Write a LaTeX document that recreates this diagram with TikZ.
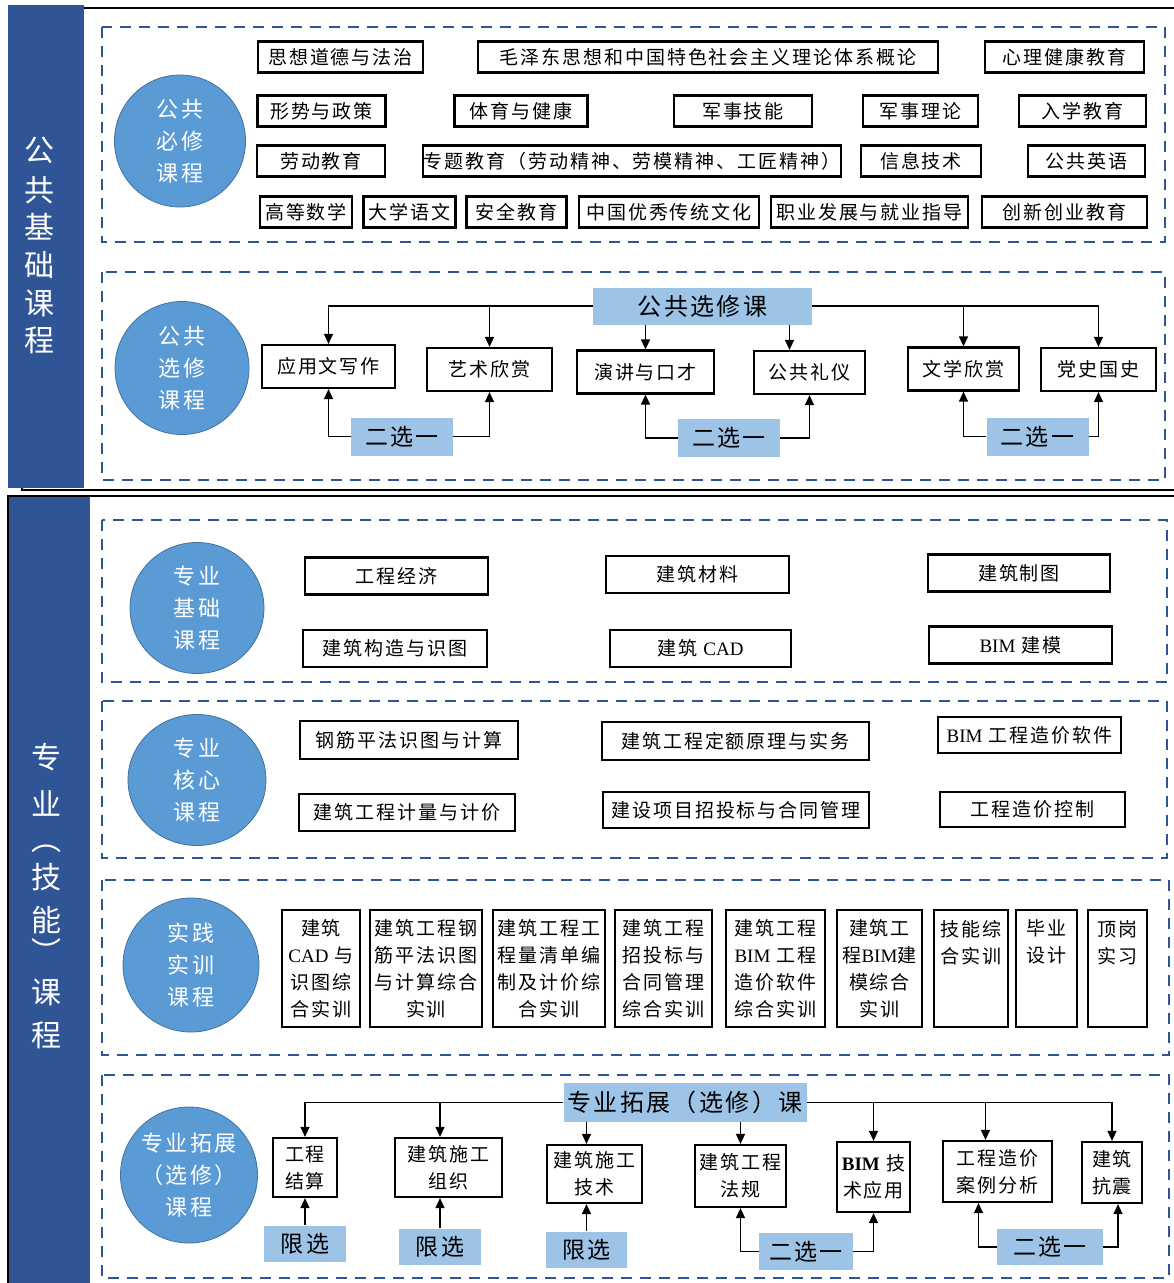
\documentclass[tikz,border=0pt]{standalone}
\usepackage{fontspec}
\usepackage{tikz}
\usetikzlibrary{arrows.meta,shapes.geometric}
\setmainfont{Noto Sans CJK SC}[LetterSpace=10]
\newfontfamily\lat{Liberation Serif}
\definecolor{bardark}{HTML}{2F5597}
\definecolor{ovalblue}{HTML}{5B9BD5}
\definecolor{ovaledge}{HTML}{41719C}
\definecolor{tagblue}{HTML}{9DC3E6}

\begin{document}
\begin{tikzpicture}[
  x=1pt, y=-1pt,
  cbox/.style={draw=black, line width=2.2pt, fill=white, inner sep=0pt, minimum height=31pt, font=\fontsize{19}{22}\selectfont},
  mbox/.style={cbox, align=center, font=\fontsize{19}{27}\selectfont},
  tag/.style={fill=tagblue, inner sep=0pt, font=\fontsize{23}{26}\selectfont},
  oval/.style={ellipse, draw=ovaledge, line width=0.8pt, fill=ovalblue, text=white, inner sep=0pt, align=center, font=\fontsize{22}{32}\selectfont},
  grp/.style={draw=bardark, line width=2.4pt, dash pattern=on 11pt off 8pt},
  lnk/.style={line width=1.3pt},
  arr/.style={lnk, -{Triangle[length=10pt,width=9pt]}},
  side/.style={text=white, inner sep=0pt, font=\fontsize{30}{30}\selectfont},
  paren/.style={side, text height=8pt, text depth=0pt},
]
\useasboundingbox (0,0) rectangle (1174,1283);
\clip (0,0) rectangle (1174,1283);
\fill[white] (0,0) rectangle (1174,1283);

% frames and side bars
\draw[line width=1.2pt] (22,8) rectangle (1190,490);
\draw[line width=1.2pt] (8,496) rectangle (1190,1300);
\fill[bardark] (8,5) rectangle (84,488);
\fill[bardark] (9,497) rectangle (90,1290);
\foreach \c/\yy [count=\i] in {公/150,共/190,基/227,础/265,课/303,程/340}
  \node[side] (up\i) at (39,\yy) {\c};
\foreach \c/\yy [count=\i] in {专/757,业/803,技/877,能/920,课/992,程/1035}
  \node[side] (lo\i) at (46,\yy) {\c};
\node[paren, anchor=south] (lpar) at (46,851) {︵};
\node[paren, anchor=south] (rpar) at (46,964) {︶};

\foreach \ya/\yb/\xb in {27/242/1165, 272/480/1165, 520/682/1167, 701/858/1167, 880/1055/1169, 1075/1278/1169}
  \draw[grp] (102,\ya) rectangle (\xb,\yb);

% public required
\node[oval, minimum width=131pt, minimum height=132pt] (pubreq) at (180,141) {公共\\必修\\课程};
\foreach \nm/\cx/\cy/\w/\t in {
  a1/340.5/57/165/思想道德与法治, a2/708/57/460/毛泽东思想和中国特色社会主义理论体系概论, a3/1064.5/57/159/心理健康教育,
  b1/321.5/111/128/形势与政策, b2/521/111/133/体育与健康, b3/743/111/138/军事技能, b4/920.5/111/115/军事理论, b5/1082.5/111/127/入学教育,
  c1/321/161/128/劳动教育, c2/632/161/418/专题教育（劳动精神、劳模精神、工匠精神）, c3/921/161/120/信息技术, c4/1086.5/161/117/公共英语,
  d1/306/212/92/高等数学, d2/409.5/212/92/大学语文, d3/516.5/212/100/安全教育, d4/669/212/180/中国优秀传统文化, d5/869.5/212/197/职业发展与就业指导, d6/1064.5/212/165/创新创业教育}
  \node[cbox, minimum width=\w pt] (\nm) at (\cx,\cy) {\t};

% public elective
\node[oval, minimum width=134pt, minimum height=133pt] (pubele) at (182,368) {公共\\选修\\课程};
\node[tag, minimum width=219pt, minimum height=37pt, font=\fontsize{24}{26}\selectfont] (pubsel) at (702.5,306) {公共选修课};
\foreach \nm/\cx/\cy/\w/\t in {yy/328.5/366.5/133/应用文写作, ys/489.5/369.5/125/艺术欣赏, yj/645.5/372/137/演讲与口才,
  gl/809.5/372.5/111/公共礼仪, wx/963.5/369/111/文学欣赏, ds/1098.5/369.5/115/党史国史}
  \node[cbox, minimum width=\w pt, minimum height=43pt] (\nm) at (\cx,\cy) {\t};
\foreach \nm/\cx/\cy in {e1/402/436.5, e2/729/438, e3/1037.5/436.5}
  \node[tag, minimum width=102pt, minimum height=38pt] (\nm) at (\cx,\cy) {二选一};
\coordinate (glin) at ([xshift=-20pt]gl.north);
\draw[arr] (pubsel.west) -| (yy.north);
\draw[arr] (pubsel.west -| ys.north) -- (ys.north);
\draw[arr] (pubsel.south -| yj.north) -- (yj.north);
\draw[arr] (pubsel.south -| glin) -- (glin);
\draw[arr] (pubsel.east -| wx.north) -- (wx.north);
\draw[arr] (pubsel.east) -| (ds.north);
\draw[arr] (e1.west) -| (yy.south);
\draw[arr] (e1.east) -| (ys.south);
\draw[arr] (e2.west) -| (yj.south);
\draw[arr] (e2.east) -| (gl.south);
\draw[arr] (e3.west) -| (wx.south);
\draw[arr] (e3.east) -| (ds.south);

% major basic
\node[oval, minimum width=134pt, minimum height=131pt] (majbase) at (197,608) {专业\\基础\\课程};
\foreach \nm/\cx/\cy/\w/\t in {gj/396.5/576/183/工程经济, gz/395/648.5/184/建筑构造与识图, cl/697.5/574.5/183/建筑材料,
  cad/700.5/648.5/181/建筑 {\lat CAD}, zt/1019/573/182/建筑制图, bm/1020.5/645/183/{\lat BIM} 建模}
  \node[cbox, minimum width=\w pt, minimum height=37pt] (\nm) at (\cx,\cy) {\t};

% major core
\node[oval, minimum width=138pt, minimum height=131pt] (majcore) at (197,780) {专业\\核心\\课程};
\foreach \nm/\cx/\cy/\w/\h/\t in {gp/409/740/218/38/钢筋平法识图与计算, jl/407/812.5/216/37/建筑工程计量与计价,
  de/735.5/741/267/38/建筑工程定额原理与实务, zb/736/810/266/36/建设项目招投标与合同管理,
  rj/1029.5/735/183/36/{\lat BIM} 工程造价软件, zjkz/1032.5/809.5/185/35/工程造价控制}
  \node[cbox, minimum width=\w pt, minimum height=\h pt] (\nm) at (\cx,\cy) {\t};

% practice
\node[oval, minimum width=136pt, minimum height=134pt] (prac) at (191,965) {实践\\实训\\课程};
\foreach \nm/\cx/\w/\t in {t1/321/78/建筑\\{\lat CAD} 与\\识图综\\合实训, t2/426/112/建筑工程钢\\筋平法识图\\与计算综合\\实训,
  t3/549/112/建筑工程工\\程量清单编\\制及计价综\\合实训, t4/663.5/97/建筑工程\\招投标与\\合同管理\\综合实训,
  t5/775.5/99/建筑工程\\{\lat BIM} 工程\\造价软件\\综合实训, t6/879.5/85/建筑工\\程{\lat BIM}建\\模综合\\实训,
  t7/971/74/技能综\\合实训\\~\\~, t8/1046.5/61/毕业\\设计\\~\\~, t9/1117.5/59/顶岗\\实习\\~\\~}
  \node[mbox, minimum width=\w pt, minimum height=117pt] (\nm) at (\cx,968.5) {\t};

% major extension
\node[oval, minimum width=137pt, minimum height=136pt] (majext) at (189,1175) {专业拓展\\（选修）\\课程};
\node[tag, minimum width=243pt, minimum height=39pt, font=\fontsize{24}{26}\selectfont] (exthd) at (685,1102.5) {专业拓展（选修）课};
\foreach \nm/\cx/\cy/\w/\h/\t in {gs/305/1167.5/64/59/工程\\结算, zz/448.5/1167.5/107/59/建筑施工\\组织,
  js/594.5/1174/95/58/建筑施工\\技术, fg/740.5/1176/91/62/建筑工程\\法规, bj/873.5/1177/73/70/{\lat\bfseries BIM} 技\\术应用,
  al/997.5/1171.5/109/61/工程造价\\案例分析, kang/1112/1172.5/60/61/建筑\\抗震}
  \node[mbox, minimum width=\w pt, minimum height=\h pt] (\nm) at (\cx,\cy) {\t};
\foreach \nm/\cx/\cy/\w in {x1/305/1243.5/82, x2/440/1246.5/82, x3/586.5/1249.5/81}
  \node[tag, minimum width=\w pt, minimum height=36pt] (\nm) at (\cx,\cy) {限选};
\node[tag, minimum width=94pt, minimum height=37pt] (e4) at (806,1251.5) {二选一};
\node[tag, minimum width=106pt, minimum height=36pt] (e5) at (1050,1247) {二选一};
\coordinate (alin) at ([xshift=-12pt]al.north);
\coordinate (alout) at ([xshift=-19pt]al.south);
\coordinate (kangout) at ([xshift=6pt]kang.south);
\draw[arr] (exthd.west) -| (gs.north);
\draw[arr] (exthd.west -| x2.north) -- (x2.north |- zz.north);
\draw[arr] (exthd.south -| x3.north) -- (x3.north |- js.north);
\draw[arr] (exthd.south -| fg.north) -- (fg.north);
\draw[arr] (exthd.east -| bj.north) -- (bj.north);
\draw[arr] (exthd.east -| alin) -- (alin);
\draw[arr] (exthd.east) -| (kang.north);
\draw[arr] (x1.north) -- (gs.south);
\draw[arr] (x2.north) -- (x2.north |- zz.south);
\draw[arr] (x3.north) -- (x3.north |- js.south);
\draw[arr] (e4.west) -| (fg.south);
\draw[arr] (e4.east) -| (bj.south);
\draw[arr] (e5.west) -| (alout);
\draw[arr] (e5.east) -| (kangout);
\end{tikzpicture}
\end{document}
